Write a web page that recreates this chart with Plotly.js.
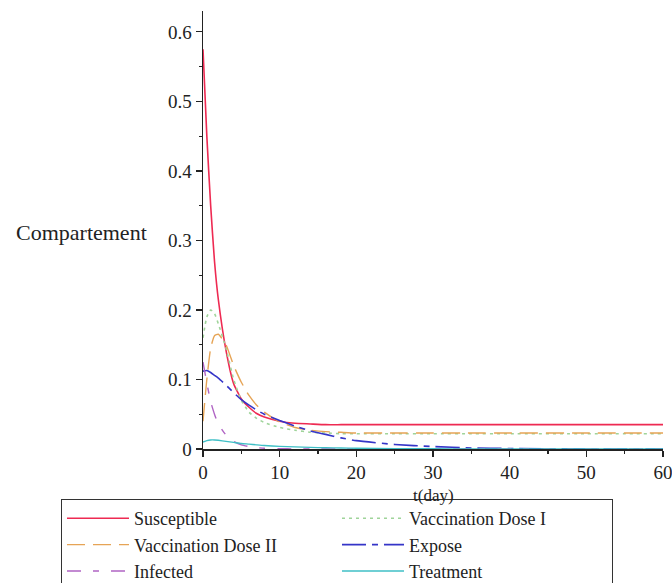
<!DOCTYPE html>
<html>
<head>
<meta charset="utf-8">
<script src="https://cdn.plot.ly/plotly-3.0.1.min.js"></script>
<style>
  html, body { margin: 0; padding: 0; background: #ffffff; }
  #chart { width: 672px; height: 583px; }
</style>
</head>
<body>
<div id="chart"></div>
<script>
// Time (days) at which the compartments are sampled
const tDays = [0, 0.5, 1, 1.5, 2, 3, 4, 5, 6, 7, 8, 10, 12, 14, 16, 18, 20, 25, 30, 35, 40, 50, 60];

// Compartment fractions over time
const susceptible = [0.575, 0.45, 0.35, 0.27, 0.215, 0.142, 0.094, 0.072, 0.06, 0.051, 0.046, 0.04, 0.037, 0.036, 0.035, 0.035, 0.035, 0.035, 0.035, 0.035, 0.035, 0.035, 0.035];
const vaccinationDoseI = [0.16, 0.19, 0.2, 0.195, 0.18, 0.145, 0.1, 0.07, 0.053, 0.044, 0.038, 0.031, 0.027, 0.024, 0.023, 0.022, 0.022, 0.022, 0.022, 0.022, 0.022, 0.022, 0.022];
const vaccinationDoseII = [0.04, 0.1, 0.145, 0.163, 0.165, 0.15, 0.12, 0.096, 0.077, 0.063, 0.053, 0.039, 0.031, 0.027, 0.025, 0.024, 0.023, 0.023, 0.023, 0.023, 0.023, 0.023, 0.023];
const expose = [0.112, 0.113, 0.11, 0.106, 0.102, 0.092, 0.081, 0.071, 0.063, 0.056, 0.05, 0.041, 0.033, 0.026, 0.021, 0.016, 0.012, 0.0065, 0.0035, 0.0015, 0.0007, 0.0001, 0];
const infected = [0.125, 0.095, 0.068, 0.05, 0.036, 0.02, 0.011, 0.006, 0.0035, 0.002, 0.001, 0.0004, 0.0002, 0.0001, 0, 0, 0, 0, 0, 0, 0, 0, 0];
const treatment = [0.01, 0.012, 0.013, 0.013, 0.0125, 0.011, 0.0095, 0.008, 0.007, 0.006, 0.005, 0.0038, 0.003, 0.0023, 0.0018, 0.0014, 0.0011, 0.0006, 0.0003, 0.0001, 0, 0, 0];

// Axis ticks
const xTicks = [0, 10, 20, 30, 40, 50, 60];
const yTicks = [0, 0.1, 0.2, 0.3, 0.4, 0.5, 0.6];

const serif = "Liberation Serif, Times New Roman, serif";

function series(name, y, color, dash, width) {
  return {
    type: "scatter",
    mode: "lines",
    name: name,
    x: tDays,
    y: y,
    line: { color: color, dash: dash, width: width, shape: "spline", smoothing: 0.5 }
  };
}

const traces = [
  series("Susceptible", susceptible, "#ee2a52", "solid", 1.6),
  series("Vaccination Dose I", vaccinationDoseI, "#9fd49a", "3px,4px", 1.6),
  series("Vaccination Dose II", vaccinationDoseII, "#e6a456", "18px,8px", 1.4),
  series("Expose", expose, "#3535c8", "24px,6px,6px,6px", 1.6),
  series("Infected", infected, "#b064c4", "14px,12px,6px,12px", 1.4),
  series("Treatment", treatment, "#3fbfc6", "solid", 1.4)
];

const axisCommon = {
  ticks: "outside",
  ticklen: 6,
  tickwidth: 1.2,
  tickcolor: "#222222",
  showline: true,
  linecolor: "#222222",
  linewidth: 1.5,
  showgrid: false,
  zeroline: false,
  ticklabeloverflow: "allow",
  tickfont: { family: serif, size: 19, color: "#222222" }
};

const layout = {
  width: 672,
  height: 583,
  margin: { l: 203, r: 9, t: 11, b: 134, autoexpand: false },
  paper_bgcolor: "#ffffff",
  plot_bgcolor: "#ffffff",
  font: { family: serif, color: "#222222", size: 19 },
  showlegend: true,
  xaxis: Object.assign({}, axisCommon, {
    range: [0, 60],
    tickvals: xTicks,
    ticktext: xTicks.map(String),
    minor: { dtick: 5, ticks: "outside", ticklen: 3, tickcolor: "#222222" },
    automargin: false
  }),
  yaxis: Object.assign({}, axisCommon, {
    range: [0, 0.63],
    tickvals: yTicks,
    ticktext: yTicks.map(String),
    minor: { dtick: 0.05, ticks: "outside", ticklen: 3, tickcolor: "#222222" },
    automargin: false
  }),
  legend: {
    orientation: "h",
    x: -0.3087,
    y: -0.1142,
    xanchor: "left",
    yanchor: "top",
    bgcolor: "#ffffff",
    bordercolor: "#333333",
    borderwidth: 1,
    itemwidth: 62,
    entrywidth: 198,
    tracegroupgap: 0,
    font: { family: serif, size: 18, color: "#222222" }
  },
  annotations: [
    {
      text: "Compartement",
      xref: "paper", yref: "paper",
      x: -0.265, y: 0.495,
      xanchor: "center", yanchor: "middle",
      showarrow: false,
      font: { family: serif, size: 22, color: "#222222" }
    },
    {
      text: "t(day)",
      xref: "paper", yref: "paper",
      x: 0.5, y: -0.106,
      xanchor: "center", yanchor: "middle",
      showarrow: false,
      font: { family: serif, size: 17, color: "#222222" }
    }
  ]
};

Plotly.newPlot("chart", traces, layout, { displayModeBar: false, staticPlot: true });
</script>
</body>
</html>
